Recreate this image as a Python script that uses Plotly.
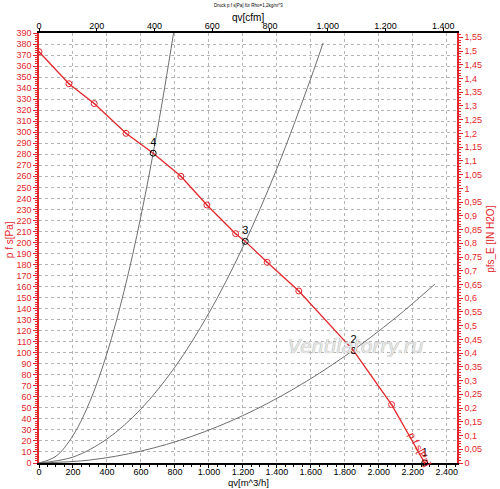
import plotly.graph_objects as go

# Kennlinie p f s [Pa] über qv [m^3/h]
qv_fan = [0, 176, 325, 512, 672, 835, 988, 1157, 1214, 1343, 1529, 1851, 1965, 2075, 2182, 2270]
pfs_fan = [373, 344, 326, 299, 281, 260, 234, 208, 201, 182, 156, 102, 77, 53, 24, 0]
qv_marks = [0, 176, 325, 512, 835, 988, 1157, 1343, 1529, 1851, 2075]
pfs_marks = [373, 344, 326, 299, 260, 234, 208, 182, 156, 102, 53]

# Anlagenkennlinien (grau)
qv_sys4 = [0, 100, 200, 300, 400, 500, 600, 700, 792]
pfs_sys4 = [0, 6.2, 24.9, 56, 99.5, 155.5, 224, 305, 390]
qv_sys3 = [0, 200, 400, 600, 800, 1000, 1200, 1400, 1600, 1672]
pfs_sys3 = [0, 5.4, 21.8, 49, 87, 136, 196, 267, 349, 381]
qv_sys2 = [0, 300, 600, 900, 1200, 1500, 1800, 2100, 2330]
pfs_sys2 = [0, 2.7, 10.8, 24.2, 43, 67.3, 96.9, 131.9, 162.3]

# Betriebspunkte
op_labels = ["4", "3", "2", "1"]
op_qv = [672, 1214, 1851, 2270]
op_pfs = [281, 201, 102, 0]

M3H_PER_CFM = 1.699
PA_PER_INH2O = 249.09
QV_MAX = 2460
PFS_MAX = 390

RED = "#e3262b"
GRAY = "#6e6e6e"
FONT = "Liberation Sans"

fig = go.Figure()

for xs, ys in [(qv_sys4, pfs_sys4), (qv_sys3, pfs_sys3), (qv_sys2, pfs_sys2)]:
    fig.add_trace(go.Scatter(x=xs, y=ys, mode="lines", line=dict(color=GRAY, width=1, shape="spline"),
                             hoverinfo="skip", showlegend=False))

fig.add_trace(go.Scatter(x=qv_fan, y=pfs_fan, mode="lines", line=dict(color=RED, width=1.3),
                         name="p f s[Pa]", showlegend=False))
fig.add_trace(go.Scatter(x=qv_marks, y=pfs_marks, mode="markers",
                         marker=dict(symbol="circle-open-dot", size=6, color=RED, line=dict(width=1)),
                         showlegend=False, hoverinfo="skip"))
fig.add_trace(go.Scatter(x=op_qv, y=op_pfs, mode="markers+text", text=op_labels,
                         textposition="top center", textfont=dict(family=FONT, size=11, color="black"),
                         marker=dict(symbol="circle-open", size=6, color="black", line=dict(width=1)),
                         showlegend=False, cliponaxis=False))

# gleiche Kennlinie in cfm / inH2O, unsichtbar, damit die Zweitachsen existieren
fig.add_trace(go.Scatter(x=[q / M3H_PER_CFM for q in qv_fan], y=[p / PA_PER_INH2O for p in pfs_fan],
                         xaxis="x2", yaxis="y2", mode="lines", line=dict(width=0), opacity=0,
                         showlegend=False, hoverinfo="skip"))

tickfont = dict(family=FONT, size=9, color="black")
redfont = dict(family=FONT, size=9, color=RED)

fig.update_layout(
    width=500, height=489,
    margin=dict(l=39, r=43, t=33, b=26, autoexpand=False),
    paper_bgcolor="white", plot_bgcolor="white",
    separators=",.",
    showlegend=False,
    xaxis=dict(range=[0, QV_MAX], dtick=200, tick0=0, separatethousands=True, automargin=False,
               showline=True, linecolor="black", linewidth=2, ticks="outside", ticklen=3,
               tickcolor="black", tickfont=tickfont, zeroline=False, ticklabelstandoff=-4,
               showgrid=True, gridcolor="#b5b5b5", griddash="dot", gridwidth=1,
               minor=dict(dtick=50, ticks="outside", ticklen=2, tickcolor="black", showgrid=False)),
    xaxis2=dict(range=[0, QV_MAX / M3H_PER_CFM], dtick=200, tick0=0, separatethousands=True,
                overlaying="x", side="top", anchor="y", automargin=False,
                showline=True, linecolor="black", linewidth=2, ticks="outside", ticklen=3,
                tickcolor="black", tickfont=tickfont, zeroline=False, showgrid=False,
                ticklabelstandoff=-5),
    yaxis=dict(range=[0, PFS_MAX], dtick=10, tick0=0, automargin=False,
               showline=True, linecolor=RED, linewidth=1.5, ticks="outside", ticklen=4,
               tickcolor=RED, tickfont=redfont, zeroline=False,
               showgrid=True, gridcolor="#b5b5b5", griddash="dot", gridwidth=1,
               minor=dict(dtick=2, ticks="outside", ticklen=2, tickcolor=RED, showgrid=False)),
    yaxis2=dict(range=[0, PFS_MAX / PA_PER_INH2O], dtick=0.05, tick0=0,
                overlaying="y", side="right", anchor="x", automargin=False,
                showline=True, linecolor=RED, linewidth=1.5, ticks="outside", ticklen=4,
                tickcolor=RED, tickfont=redfont, zeroline=False, showgrid=False,
                minor=dict(dtick=0.01, ticks="outside", ticklen=2, tickcolor=RED)),
)

# Beschriftungen
lbl = dict(xref="paper", yref="paper", showarrow=False, xanchor="center", yanchor="middle")
fig.add_annotation(text="Druck p f s[Pa] für Rho=1,2kg/m^3", x=0.5, y=1.063,
                   font=dict(family=FONT, size=4.5, color="black"), **lbl)
fig.add_annotation(text="qv[cfm]", x=0.5, y=1.037,
                   font=dict(family=FONT, size=10, color="black"), **lbl)
fig.add_annotation(text="qv[m^3/h]", x=0.5, y=-0.046,
                   font=dict(family=FONT, size=9.5, color="black"), **lbl)
fig.add_annotation(text="p f s[Pa]", x=-0.07, y=0.52, textangle=-90,
                   font=dict(family=FONT, size=10, color=RED), **lbl)
fig.add_annotation(text="pfs_E [IN H2O]", x=1.08, y=0.52, textangle=-90,
                   font=dict(family=FONT, size=10, color=RED), **lbl)
fig.add_annotation(text="p f s[Pa]", x=2241, y=12, textangle=62, showarrow=False,
                   font=dict(family=FONT, size=10, color=RED))
fig.add_annotation(text="Ventilatorry.ru", x=1864, y=106, showarrow=False,
                   font=dict(family="DejaVu Sans", size=19, color="#e6e6e6", style="italic",
                             shadow="0 0 1px #8a8a8a"))

# Seitenrand des Browsers entfernen, damit die Grafik bei (0,0) beginnt
fig.write_html("out.html", config={"displayModeBar": False},
               post_script="document.body.style.margin='0';")
